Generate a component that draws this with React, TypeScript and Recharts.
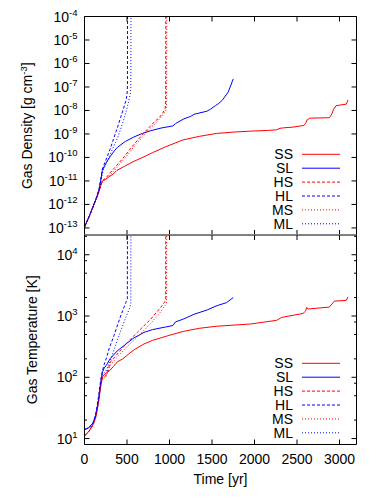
import React from "react";
import { LineChart, Line, XAxis, YAxis, Legend } from "recharts";

const FONT = "'Liberation Sans', Arial, Helvetica, sans-serif";
const RED = "#ff0000";
const BLUE = "#0000ff";

const TIME_TICKS = [0, 500, 1000, 1500, 2000, 2500, 3000];
const DENSITY_TICKS = [1e-13, 1e-12, 1e-11, 1e-10, 1e-9, 1e-8, 1e-7, 1e-6, 1e-5, 1e-4];
const TEMP_TICKS = [10, 20, 50, 80, 100, 200, 500, 800, 1000, 2000, 5000, 8000, 10000, 20000];

// gas density [g cm^-3] vs time [yr]
const SS_RHO_T = [0, 50, 100, 140, 170, 190, 210, 230, 260, 300, 340, 380, 470, 580, 700, 800, 970, 1160, 1350, 1550, 1750, 1950, 2150, 2260, 2300, 2340, 2450, 2580, 2600, 2620, 2650, 2880, 2910, 2930, 2960, 3080, 3100];
const SS_RHO = [1.1e-13, 2.8e-13, 8e-13, 1.8e-12, 3.5e-12, 6.3e-12, 1e-11, 1.1e-11, 1.25e-11, 1.6e-11, 2e-11, 2.8e-11, 4.2e-11, 6.8e-11, 1.07e-10, 1.6e-10, 3e-10, 5.6e-10, 7.9e-10, 1.05e-9, 1.2e-9, 1.32e-9, 1.41e-9, 1.5e-9, 1.74e-9, 1.82e-9, 1.95e-9, 2.3e-9, 2.8e-9, 4e-9, 4.7e-9, 4.9e-9, 7.1e-9, 1.12e-8, 1.6e-8, 1.86e-8, 2.8e-8];
const SL_RHO_T = [0, 50, 100, 140, 170, 190, 210, 230, 260, 300, 350, 390, 480, 580, 680, 780, 900, 1040, 1070, 1100, 1170, 1250, 1290, 1440, 1480, 1540, 1580, 1620, 1690, 1750];
const SL_RHO = [1.1e-13, 2.8e-13, 8e-13, 1.8e-12, 4e-12, 1e-11, 2.8e-11, 4e-11, 6.3e-11, 1.07e-10, 1.9e-10, 2.75e-10, 4.8e-10, 7.4e-10, 1.05e-9, 1.38e-9, 1.78e-9, 2.2e-9, 2.75e-9, 3.2e-9, 4.4e-9, 5.6e-9, 6.9e-9, 9.3e-9, 1.12e-8, 1.6e-8, 2e-8, 2.7e-8, 6e-8, 2.2e-7];
const HS_RHO_T = [0, 50, 100, 140, 170, 190, 210, 240, 270, 300, 350, 400, 470, 520, 580, 640, 700, 760, 820, 880, 920, 950, 955, 957];
const HS_RHO = [1.1e-13, 2.8e-13, 8e-13, 1.8e-12, 3.5e-12, 6.3e-12, 1e-11, 1.25e-11, 1.6e-11, 2.2e-11, 3.5e-11, 5.6e-11, 1.1e-10, 1.9e-10, 3.5e-10, 6.3e-10, 1.1e-9, 1.9e-9, 3.2e-9, 5e-9, 7.6e-9, 1.25e-8, 2.5e-8, 1e-3];
const HL_RHO_T = [0, 50, 100, 140, 170, 190, 210, 230, 268, 300, 347, 390, 425, 460, 485, 500, 505, 507];
const HL_RHO = [1.1e-13, 2.8e-13, 8e-13, 2e-12, 4.5e-12, 1.1e-11, 3.2e-11, 5e-11, 1.1e-10, 2.2e-10, 7e-10, 2e-9, 5e-9, 1.25e-8, 2.5e-8, 4.5e-8, 1e-7, 1e-3];
const MS_RHO_T = [0, 50, 100, 140, 170, 190, 210, 240, 270, 300, 350, 400, 470, 520, 580, 640, 700, 760, 820, 880, 930, 960, 966, 968];
const MS_RHO = [1.1e-13, 2.6e-13, 7.5e-13, 1.7e-12, 3.3e-12, 6e-12, 8.9e-12, 1.1e-11, 1.4e-11, 1.8e-11, 2.8e-11, 4.5e-11, 8.9e-11, 1.5e-10, 2.8e-10, 5e-10, 8.9e-10, 1.6e-9, 2.5e-9, 4.2e-9, 6.6e-9, 1.1e-8, 2e-8, 1e-3];
const ML_RHO_T = [0, 50, 100, 140, 170, 190, 210, 230, 268, 300, 347, 390, 425, 465, 504, 535, 545, 547];
const ML_RHO = [1.1e-13, 2.8e-13, 8e-13, 1.8e-12, 4e-12, 8.9e-12, 2e-11, 3.5e-11, 7e-11, 1.25e-10, 3.2e-10, 7e-10, 1.6e-9, 4.5e-9, 1.4e-8, 4.5e-8, 8e-8, 1e-3];

// gas temperature [K] vs time [yr]
const SS_TEMP_T = [0, 50, 100, 130, 150, 170, 190, 210, 230, 260, 300, 340, 386, 450, 520, 582, 700, 800, 967, 1160, 1350, 1550, 1950, 2260, 2320, 2570, 2600, 2615, 2630, 2880, 2940, 3080, 3100];
const SS_TEMP = [11.2, 13, 17, 22, 30, 45, 70, 100, 110, 118, 130, 150, 178, 200, 240, 280, 350, 400, 470, 560, 630, 680, 740, 850, 950, 1100, 1200, 1380, 1300, 1400, 1750, 1800, 2050];
const SL_TEMP_T = [0, 50, 100, 130, 150, 170, 190, 210, 230, 260, 300, 386, 500, 582, 700, 800, 950, 1040, 1070, 1170, 1290, 1440, 1560, 1670, 1750];
const SL_TEMP = [14, 15, 18, 24, 32, 48, 80, 120, 140, 160, 200, 270, 360, 440, 540, 600, 660, 700, 800, 900, 1070, 1250, 1480, 1650, 2000];
const HS_TEMP_T = [0, 50, 100, 130, 150, 170, 190, 210, 250, 308, 386, 504, 621, 779, 896, 950, 955, 957];
const HS_TEMP = [11, 13, 17, 23, 32, 50, 80, 100, 105, 180, 240, 370, 540, 890, 1380, 1750, 1800, 1e6];
const HL_TEMP_T = [0, 50, 100, 130, 150, 170, 190, 210, 230, 260, 288, 347, 425, 485, 504, 507];
const HL_TEMP = [14, 15, 18, 24, 35, 55, 90, 125, 160, 210, 290, 480, 1000, 1650, 1900, 1e6];
const MS_TEMP_T = [0, 50, 100, 130, 150, 170, 190, 210, 250, 308, 386, 504, 621, 779, 896, 960, 966, 968];
const MS_TEMP = [11, 13, 16, 21, 28, 42, 70, 95, 100, 160, 215, 320, 450, 760, 1170, 1580, 1700, 1e6];
const ML_TEMP_T = [0, 50, 100, 130, 150, 170, 190, 210, 250, 300, 386, 465, 535, 545, 547];
const ML_TEMP = [14, 15, 17, 22, 30, 45, 75, 110, 125, 180, 400, 800, 1400, 1650, 1e6];

const pts = (t: number[], v: number[]) => t.map((x, i) => ({ t: x, v: v[i] }));

const SERIES = [
  { name: "SS", color: RED, dash: undefined, rho: pts(SS_RHO_T, SS_RHO), temp: pts(SS_TEMP_T, SS_TEMP) },
  { name: "SL", color: BLUE, dash: undefined, rho: pts(SL_RHO_T, SL_RHO), temp: pts(SL_TEMP_T, SL_TEMP) },
  { name: "HS", color: RED, dash: "3 2", rho: pts(HS_RHO_T, HS_RHO), temp: pts(HS_TEMP_T, HS_TEMP) },
  { name: "HL", color: BLUE, dash: "3 2", rho: pts(HL_RHO_T, HL_RHO), temp: pts(HL_TEMP_T, HL_TEMP) },
  { name: "MS", color: RED, dash: "1 2", rho: pts(MS_RHO_T, MS_RHO), temp: pts(MS_TEMP_T, MS_TEMP) },
  { name: "ML", color: BLUE, dash: "1 2", rho: pts(ML_RHO_T, ML_RHO), temp: pts(ML_TEMP_T, ML_TEMP) },
];

const txt = { fontSize: 14, fontFamily: FONT, fill: "#000" };

const isMajor = (v: number) => {
  const l = Math.log10(v);
  return Math.abs(l - Math.round(l)) < 1e-6;
};

function LogTick(props: any) {
  const { x, y, payload, side } = props;
  const v = payload.value;
  const major = isMajor(v);
  const len = major ? 5 : 2.5;
  const dir = side === "left" ? 1 : -1;
  return (
    <g>
      <line x1={x} x2={x + dir * len} y1={y} y2={y} stroke="#000" />
      {major && side === "left" && (
        <text x={x - 7} y={y + 5} textAnchor="end" {...txt}>
          10<tspan dy={-6} fontSize={9.5}>{Math.round(Math.log10(v))}</tspan>
        </text>
      )}
    </g>
  );
}

function TimeTick(props: any) {
  const { x, y, payload, dir, showLabel } = props;
  return (
    <g>
      <line x1={x} x2={x} y1={y} y2={y + dir * 5} stroke="#000" />
      {showLabel && (
        <text x={x} y={y + 19.5} textAnchor="middle" {...txt}>
          {payload.value}
        </text>
      )}
    </g>
  );
}

function LegendBox() {
  return (
    <svg width={110} height={90} style={{ display: "block" }}>
      {SERIES.map((s, i) => {
        const cy = 7.3 + i * 13.9;
        return (
          <g key={s.name}>
            <text x={43} y={cy + 5} textAnchor="end" {...txt}>
              {s.name}
            </text>
            <line x1={52} x2={90} y1={cy} y2={cy} stroke={s.color} strokeDasharray={s.dash} />
          </g>
        );
      })}
    </svg>
  );
}

const BLACK_LINE = { stroke: "#000", strokeWidth: 1 };
const GRAY_LINE = { stroke: "#808080", strokeWidth: 2 };

export default function App() {
  return (
    <div style={{ position: "relative", width: 371, height: 492 }}>
      <div style={{ position: "absolute", left: 0, top: 0 }}>
        <LineChart width={360} height={235} margin={{ top: 0, right: 0, bottom: 0, left: 0 }}>
          <XAxis xAxisId="b" dataKey="t" type="number" domain={[0, 3200]} allowDataOverflow ticks={TIME_TICKS} interval={0}
            height={8} tickSize={0} tickMargin={0} tickLine={false} axisLine={GRAY_LINE}
            tick={(p: any) => <TimeTick {...p} dir={-1} />} />
          <XAxis xAxisId="t" orientation="top" dataKey="t" type="number" domain={[0, 3200]} allowDataOverflow ticks={TIME_TICKS} interval={0}
            height={8.5} tickSize={0} tickMargin={0} tickLine={false} axisLine={BLACK_LINE}
            tick={(p: any) => <TimeTick {...p} dir={1} />} />
          <YAxis yAxisId="l" type="number" scale="log" domain={[5e-14, 1e-4]} allowDataOverflow ticks={DENSITY_TICKS} interval={0}
            width={76.5} tickSize={0} tickMargin={0} tickLine={false} axisLine={BLACK_LINE}
            tick={(p: any) => <LogTick {...p} side="left" />}
            label={() => (
              <text x={24.3} y={117.75} transform="rotate(-90 24.3 117.75)" textAnchor="middle" {...txt}>
                Gas Density [g cm<tspan dy={-5} fontSize={9.5}>-3</tspan><tspan dy={5}>]</tspan>
              </text>
            )} />
          <YAxis yAxisId="r" orientation="right" type="number" scale="log" domain={[5e-14, 1e-4]} allowDataOverflow ticks={DENSITY_TICKS} interval={0}
            width={11.5} tickSize={0} tickMargin={0} tickLine={false} axisLine={BLACK_LINE}
            tick={(p: any) => <LogTick {...p} side="right" />} />
          {SERIES.map((s) => (
            <Line key={s.name} name={s.name} data={s.rho} dataKey="v" xAxisId="b" yAxisId="l" type="linear"
              stroke={s.color} strokeDasharray={s.dash} strokeWidth={1} dot={false} isAnimationActive={false} />
          ))}
          <Legend layout="vertical" align="center" verticalAlign="middle" content={() => <LegendBox />}
            wrapperStyle={{ left: 242, top: 139, width: 110, height: 90 }} />
        </LineChart>
      </div>
      <div style={{ position: "absolute", left: 0, top: 217 }}>
        <LineChart width={360} height={275} margin={{ top: 0, right: 0, bottom: 0, left: 0 }}>
          <XAxis xAxisId="b" dataKey="t" type="number" domain={[0, 3200]} allowDataOverflow ticks={TIME_TICKS} interval={0}
            height={55.5} tickSize={0} tickMargin={0} tickLine={false} axisLine={BLACK_LINE}
            tick={(p: any) => <TimeTick {...p} dir={-1} showLabel />}
            label={() => (
              <text x={212.5} y={259} textAnchor="middle" {...txt}>Time [yr]</text>
            )} />
          <XAxis xAxisId="t" orientation="top" dataKey="t" type="number" domain={[0, 3200]} allowDataOverflow ticks={TIME_TICKS} interval={0}
            height={10} tickSize={0} tickMargin={0} tickLine={false} axisLine={GRAY_LINE}
            tick={(p: any) => <TimeTick {...p} dir={1} />} />
          <YAxis yAxisId="l" type="number" scale="log" domain={[8, 21000]} allowDataOverflow ticks={TEMP_TICKS} interval={0}
            width={76.5} tickSize={0} tickMargin={0} tickLine={false} axisLine={BLACK_LINE}
            tick={(p: any) => <LogTick {...p} side="left" />}
            label={() => (
              <text x={29.3} y={114.75} transform="rotate(-90 29.3 114.75)" textAnchor="middle" {...txt}>
                Gas Temperature [K]
              </text>
            )} />
          <YAxis yAxisId="r" orientation="right" type="number" scale="log" domain={[8, 21000]} allowDataOverflow ticks={TEMP_TICKS} interval={0}
            width={11.5} tickSize={0} tickMargin={0} tickLine={false} axisLine={BLACK_LINE}
            tick={(p: any) => <LogTick {...p} side="right" />} />
          {SERIES.map((s) => (
            <Line key={s.name} name={s.name} data={s.temp} dataKey="v" xAxisId="b" yAxisId="l" type="linear"
              stroke={s.color} strokeDasharray={s.dash} strokeWidth={1} dot={false} isAnimationActive={false} />
          ))}
          <Legend layout="vertical" align="center" verticalAlign="middle" content={() => <LegendBox />}
            wrapperStyle={{ left: 242, top: 131, width: 110, height: 90 }} />
        </LineChart>
      </div>
    </div>
  );
}
